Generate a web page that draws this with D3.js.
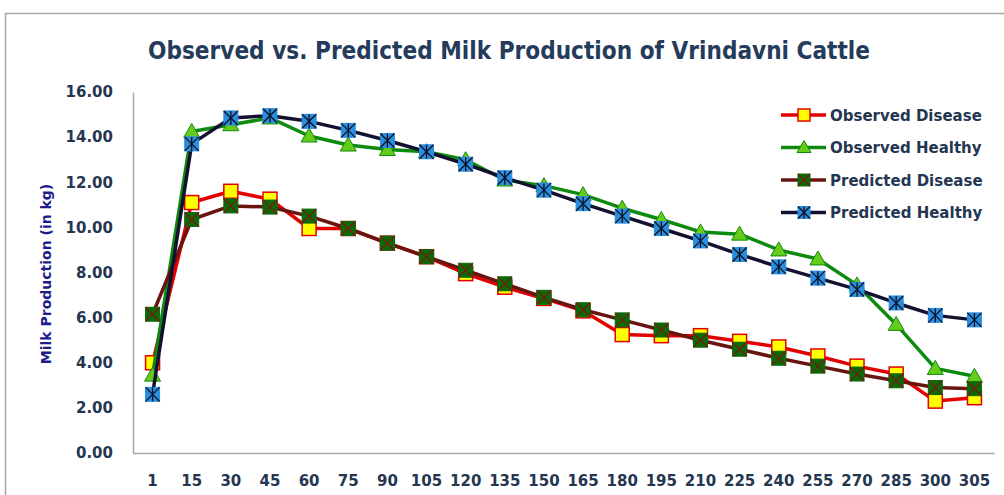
<!DOCTYPE html>
<html>
<head>
<meta charset="utf-8">
<script src="https://cdn.jsdelivr.net/npm/d3@7"></script>
<style>
  body { margin: 0; background: #fff; }
  text { font-family: "DejaVu Sans", sans-serif; }
</style>
</head>
<body>
<div id="chart"></div>
<script>
// days in milk
const days = ["1","15","30","45","60","75","90","105","120","135","150","165","180","195","210","225","240","255","270","285","300","305"];

const observedDisease = [4.0,11.1,11.6,11.25,9.95,9.95,9.3,8.7,7.95,7.35,6.85,6.3,5.25,5.2,5.2,4.95,4.7,4.3,3.85,3.5,2.3,2.45];
const observedHealthy = [3.45,14.25,14.55,14.85,14.05,13.65,13.45,13.35,13.0,12.1,11.85,11.45,10.85,10.35,9.8,9.7,9.0,8.6,7.45,5.7,3.75,3.4];
const predictedDisease = [6.15,10.35,10.95,10.9,10.5,9.95,9.3,8.7,8.1,7.5,6.9,6.35,5.9,5.45,5.0,4.6,4.2,3.85,3.5,3.2,2.9,2.85];
const predictedHealthy = [2.6,13.7,14.85,14.95,14.7,14.3,13.85,13.35,12.8,12.2,11.65,11.05,10.5,9.95,9.4,8.8,8.25,7.75,7.25,6.65,6.1,5.9];

const yTicks = [0,2,4,6,8,10,12,14,16];

const series = [
  { name: "Observed Disease", values: observedDisease, line: "#e30000", marker: "square", fill: "#ffff00", stroke: "#e30000" },
  { name: "Observed Healthy", values: observedHealthy, line: "#0e8a0e", marker: "triangle", fill: "#66cc1a", stroke: "#0e8a0e" },
  { name: "Predicted Disease", values: predictedDisease, line: "#6a1410", marker: "squareX", fill: "#0a6a0a", stroke: "#0a6a0a", cross: "#7a1a10" },
  { name: "Predicted Healthy", values: predictedHealthy, line: "#121230", marker: "squareStar", fill: "#2a8ee0", stroke: "#2a8ee0", cross: "#101020" }
];

const width = 1004, height = 495;
const margin = { top: 92, right: 10, bottom: 42, left: 133 };
const innerW = width - margin.left - margin.right;
const innerH = height - margin.top - margin.bottom;

const svg = d3.select("#chart").append("svg")
  .attr("width", width)
  .attr("height", height);

// outer chart frame (cropped at right/bottom)
svg.append("path")
  .attr("d", `M5.5,${height} V13.5 H${width}`)
  .attr("fill", "none")
  .attr("stroke", "#a6a6a6")
  .attr("stroke-width", 1.5);

svg.append("text")
  .attr("x", 509)
  .attr("y", 59)
  .attr("text-anchor", "middle")
  .attr("textLength", 722)
  .attr("lengthAdjust", "spacingAndGlyphs")
  .style("font-family", "'DejaVu Sans Condensed', 'Liberation Sans Narrow', sans-serif")
  .style("font-size", "25px")
  .style("font-weight", "bold")
  .style("fill", "#253b5c")
  .text("Observed vs. Predicted Milk Production of Vrindavni Cattle");

const x = d3.scaleBand()
  .domain(days)
  .range([0, innerW]);

const y = d3.scaleLinear()
  .domain([0, 16])
  .range([innerH, 0]);

const chart = svg.append("g")
  .attr("transform", `translate(${margin.left},${margin.top})`);

const yAxis = chart.append("g")
  .call(d3.axisLeft(y).tickValues(yTicks).tickFormat(d3.format(".2f")).tickSize(0).tickPadding(20));
yAxis.select(".domain").attr("stroke", "#a6a6a6").attr("stroke-width", 1.5);
yAxis.selectAll("text")
  .style("font-family", "'DejaVu Sans', sans-serif")
  .style("font-size", "15px").style("font-weight", "bold").style("fill", "#243650");

const xAxis = chart.append("g")
  .attr("transform", `translate(0,${innerH})`)
  .call(d3.axisBottom(x).tickSize(0).tickPadding(22));
xAxis.select(".domain").attr("stroke", "#a6a6a6").attr("stroke-width", 1.5);
xAxis.selectAll("text")
  .style("font-family", "'DejaVu Sans', sans-serif")
  .style("font-size", "15px").style("font-weight", "bold").style("fill", "#243650");

svg.append("text")
  .attr("transform", "translate(51,274) rotate(-90)")
  .attr("text-anchor", "middle")
  .style("font-size", "14px")
  .style("font-weight", "bold")
  .style("fill", "#1c1c8a")
  .text("Milk Production (in kg)");

const cx = (d, i) => x(days[i]) + x.bandwidth() / 2;

const line = d3.line()
  .x((d, i) => cx(d, i))
  .y(d => y(d));

function drawMarker(g, s, px, py, r = 7) {
  if (s.marker === "triangle") {
    g.append("path")
      .attr("d", `M${px},${py - r - 1} L${px + r + 1},${py + r - 1} L${px - r - 1},${py + r - 1} Z`)
      .attr("fill", s.fill).attr("stroke", s.stroke).attr("stroke-width", 1);
    return;
  }
  g.append("rect")
    .attr("x", px - r).attr("y", py - r)
    .attr("width", 2 * r).attr("height", 2 * r)
    .attr("fill", s.fill)
    .attr("stroke", s.stroke)
    .attr("stroke-width", s.marker === "square" ? 1.5 : 1);
  if (s.marker === "squareX" || s.marker === "squareStar") {
    g.append("path")
      .attr("d", `M${px - r},${py - r} L${px + r},${py + r} M${px + r},${py - r} L${px - r},${py + r}`)
      .attr("stroke", s.cross).attr("stroke-width", 1.3);
  }
  if (s.marker === "squareStar") {
    g.append("path")
      .attr("d", `M${px},${py - r} V${py + r}`)
      .attr("stroke", s.cross).attr("stroke-width", 1.3);
  }
}

series.forEach(s => {
  const g = chart.append("g");
  g.append("path")
    .datum(s.values)
    .attr("fill", "none")
    .attr("stroke", s.line)
    .attr("stroke-width", 3.5)
    .attr("stroke-linejoin", "round")
    .attr("d", line);
  s.values.forEach((v, i) => drawMarker(g, s, cx(v, i), y(v)));
});

// legend
const legend = svg.append("g");
series.forEach((s, i) => {
  const ly = 115 + i * 32.5;
  const g = legend.append("g");
  g.append("line")
    .attr("x1", 781).attr("x2", 826)
    .attr("y1", ly).attr("y2", ly)
    .attr("stroke", s.line).attr("stroke-width", 3.5);
  drawMarker(g, s, 804, ly, 6);
  g.append("text")
    .attr("x", 830).attr("y", ly + 5.5)
    .style("font-size", "15px")
    .style("font-weight", "bold")
    .style("fill", "#243650")
    .text(s.name);
});
</script>
</body>
</html>
